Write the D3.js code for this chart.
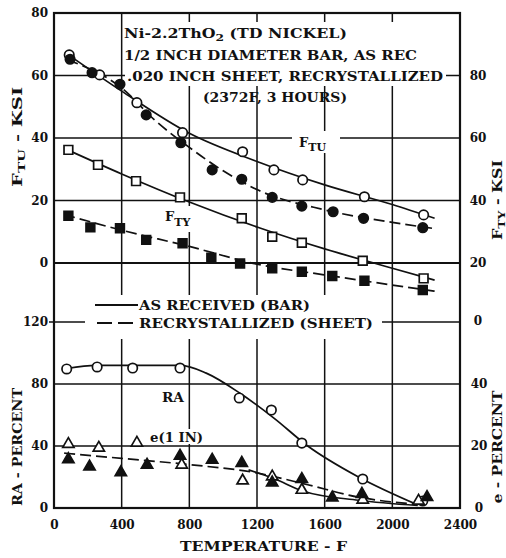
<!DOCTYPE html>
<html>
<head>
<meta charset="utf-8">
<script src="https://cdn.jsdelivr.net/npm/d3@7"></script>
<style>
body { margin: 0; background: #fff; }
svg { display: block; }
text { font-family: "DejaVu Serif", serif; font-weight: bold; fill: #111; }
</style>
</head>
<body>
<svg id="chart" width="506" height="558"></svg>
<script>
// tick values
var tempTicks = [0, 400, 800, 1200, 1600, 2000, 2400];
var ftuTicks = [0, 20, 40, 60, 80];
var ftyTicks = [0, 20, 40, 60, 80];
var raTicks = [0, 40, 80, 120];
var eTicks = [0, 20, 40];

// F_TU, as received bar (open circles)
var ftuBarTemp = [90, 270, 490, 760, 1115, 1300, 1470, 1835, 2185];
var ftuBarKsi = [66.6, 60.2, 51.3, 41.7, 35.6, 29.8, 26.6, 21.2, 15.4];
// F_TU, recrystallized sheet (filled circles)
var ftuSheetTemp = [95, 225, 390, 545, 750, 935, 1110, 1290, 1465, 1650, 1830, 2180];
var ftuSheetKsi = [65.2, 60.9, 57.2, 47.4, 38.5, 29.8, 26.8, 21.0, 18.2, 16.4, 14.3, 11.3];
// F_TY, as received bar (open squares)
var ftyBarTemp = [85, 260, 485, 745, 1110, 1290, 1465, 1825, 2185];
var ftyBarKsi = [56.2, 51.4, 46.2, 41.0, 34.3, 28.4, 26.5, 20.7, 14.7];
// F_TY, recrystallized sheet (filled squares)
var ftySheetTemp = [85, 215, 390, 545, 760, 930, 1100, 1290, 1465, 1645, 1835, 2180];
var ftySheetKsi = [35.1, 31.4, 31.1, 27.4, 26.3, 21.7, 19.8, 18.2, 17.0, 15.5, 13.9, 10.7];
// RA, as received bar (open circles)
var raBarTemp = [75, 255, 465, 745, 1095, 1285, 1465, 1825, 2180];
var raBarPct = [89.7, 91.0, 90.3, 90.3, 71.0, 63.2, 41.9, 18.7, 4.5];
// e(1 IN), as received bar (open triangles)
var eBarTemp = [85, 265, 490, 755, 1115, 1290, 1465, 1825, 2155];
var eBarPct = [20.6, 19.4, 21.0, 13.9, 8.8, 10.1, 5.8, 2.6, 2.3];
// e(1 IN), recrystallized sheet (filled triangles)
var eSheetTemp = [85, 210, 395, 550, 745, 935, 1110, 1290, 1465, 1645, 1820, 2205];
var eSheetPct = [15.7, 13.3, 11.5, 13.9, 16.8, 15.5, 14.5, 8.2, 9.3, 3.3, 4.5, 3.5];

// faired curves as drawn on the chart
var ftuBarFitT = [75, 400, 800, 1200, 1600, 2000, 2250];
var ftuBarFitV = [67, 55, 41.5, 32.5, 25, 18.7, 14.3];
var ftuSheetFitT = [80, 400, 600, 800, 1000, 1200, 1600, 2000, 2250];
var ftuSheetFitV = [65, 56, 45.5, 37, 29.5, 23.5, 17, 13, 11];
var ftyBarFitT = [80, 400, 800, 1200, 1600, 2000, 2250];
var ftyBarFitV = [56.2, 48.5, 39.5, 31.5, 24.5, 18.2, 14.1];
var ftySheetFitT = [60, 400, 800, 1200, 1600, 2000, 2250];
var ftySheetFitV = [35.5, 30.5, 25.3, 19.6, 15.9, 12.4, 10.3];
var raBarFitT = [75, 250, 750, 900, 1100, 1300, 1500, 1800, 2150];
var raBarFitV = [90, 92, 92, 87, 74, 58, 40, 20, 2];
var eSheetFitT = [60, 400, 800, 1200, 1500, 1800, 2200];
var eSheetFitV = [17.7, 16, 14, 11.3, 7.5, 3.5, 1];
var eBarFitT = [1150, 1300, 1470, 1800, 2150];
var eBarFitV = [12.3, 9.5, 5.5, 2.5, 0.8];

var svg = d3.select('#chart');
var ink = '#111';

var x = d3.scaleLinear().domain([0, 2400]).range([54, 460]);
var yFtu = d3.scaleLinear().domain([0, 80]).range([263, 13]);
var yFty = d3.scaleLinear().domain([0, 20, 80]).range([321, 263, 75.5]);
var yRa = d3.scaleLinear().domain([0, 120]).range([508, 322]);
var yE = d3.scaleLinear().domain([0, 40]).range([508, 384]);

function zip(a, b) {
    return a.map(function(d, i) { return [d, b[i]]; });
}

// grid
var gGrid = svg.append('g').attr('stroke', ink).attr('stroke-width', 1.5);
[20, 40, 60].forEach(function(v) {
    gGrid.append('line').attr('x1', x(0)).attr('x2', x(2400)).attr('y1', yFtu(v)).attr('y2', yFtu(v));
});
gGrid.append('line').attr('x1', x(0)).attr('x2', x(2400)).attr('y1', yFtu(0)).attr('y2', yFtu(0)).attr('stroke-width', 2);
[40, 80, 120].forEach(function(v) {
    gGrid.append('line').attr('x1', x(0)).attr('x2', x(2400)).attr('y1', yRa(v)).attr('y2', yRa(v));
});
[400, 800, 1200, 1600, 2000].forEach(function(t) {
    gGrid.append('line').attr('x1', x(t)).attr('x2', x(t)).attr('y1', yFtu(80)).attr('y2', yRa(0));
});

// white patches behind labels (grid is broken there)
var masks = [[125, 22, 321, 64], [292, 131, 48, 22], [85, 295, 297, 44], [163, 206, 36, 26], [148, 429, 57, 15]];
svg.append('g').selectAll('rect').data(masks).enter().append('rect')
    .attr('x', function(d) { return d[0]; }).attr('y', function(d) { return d[1]; })
    .attr('width', function(d) { return d[2]; }).attr('height', function(d) { return d[3]; })
    .attr('fill', '#fff');

// curves
function drawCurve(ts, vs, yScale, dashed) {
    var line = d3.line()
        .x(function(d) { return x(d[0]); })
        .y(function(d) { return yScale(d[1]); })
        .curve(d3.curveMonotoneX);
    svg.append('path').datum(zip(ts, vs))
        .attr('d', line)
        .attr('fill', 'none')
        .attr('stroke', ink)
        .attr('stroke-width', 1.7)
        .attr('stroke-dasharray', dashed ? '11,5' : null);
}
drawCurve(ftuBarFitT, ftuBarFitV, yFtu, false);
drawCurve(ftuSheetFitT, ftuSheetFitV, yFtu, true);
drawCurve(ftyBarFitT, ftyBarFitV, yFty, false);
drawCurve(ftySheetFitT, ftySheetFitV, yFty, true);
drawCurve(raBarFitT, raBarFitV, yRa, false);
drawCurve(eSheetFitT, eSheetFitV, yE, true);
drawCurve(eBarFitT, eBarFitV, yE, false);

// markers
function drawMarks(ts, vs, yScale, type, size, filled) {
    var sym = d3.symbol().type(type).size(size);
    svg.append('g').selectAll('path').data(zip(ts, vs)).enter().append('path')
        .attr('d', sym)
        .attr('transform', function(d) { return 'translate(' + x(d[0]) + ',' + yScale(d[1]) + ')'; })
        .attr('fill', filled ? ink : '#fff')
        .attr('stroke', ink)
        .attr('stroke-width', 1.7);
}
drawMarks(ftuBarTemp, ftuBarKsi, yFtu, d3.symbolCircle, 70, false);
drawMarks(ftuSheetTemp, ftuSheetKsi, yFtu, d3.symbolCircle, 70, true);
drawMarks(ftyBarTemp, ftyBarKsi, yFty, d3.symbolSquare, 76, false);
drawMarks(ftySheetTemp, ftySheetKsi, yFty, d3.symbolSquare, 76, true);
drawMarks(raBarTemp, raBarPct, yRa, d3.symbolCircle, 70, false);
drawMarks(eBarTemp, eBarPct, yE, d3.symbolTriangle, 55, false);
drawMarks(eSheetTemp, eSheetPct, yE, d3.symbolTriangle, 55, true);

// axes
function styleAxis(g) {
    g.select('.domain').remove();
    g.selectAll('text').attr('font-size', 12).attr('font-family', '"DejaVu Serif", serif').attr('font-weight', 'bold').attr('fill', ink);
}
svg.append('g').attr('transform', 'translate(54,0)')
    .call(d3.axisLeft(yFtu).tickValues(ftuTicks).tickSize(0).tickPadding(6)).call(styleAxis);
svg.append('g').attr('transform', 'translate(54,0)')
    .call(d3.axisLeft(yRa).tickValues(raTicks).tickSize(0).tickPadding(6)).call(styleAxis);
svg.append('g').attr('transform', 'translate(460,0)')
    .call(d3.axisRight(yFty).tickValues(ftyTicks).tickSize(0).tickPadding(10)).call(styleAxis)
    .selectAll('text').attr('text-anchor', 'middle').attr('x', 18);
svg.append('g').attr('transform', 'translate(460,0)')
    .call(d3.axisRight(yE).tickValues(eTicks).tickSize(0).tickPadding(10)).call(styleAxis)
    .selectAll('text').attr('text-anchor', 'middle').attr('x', 19);
svg.append('g').attr('transform', 'translate(0,508)')
    .call(d3.axisBottom(x).tickValues(tempTicks).tickFormat(d3.format('d')).tickSize(0).tickPadding(12)).call(styleAxis);

// short tick at left of 120
svg.append('line').attr('x1', 49).attr('x2', 54).attr('y1', yRa(120)).attr('y2', yRa(120)).attr('stroke', ink).attr('stroke-width', 1.5);

// frame
svg.append('rect').attr('x', x(0)).attr('y', yFtu(80))
    .attr('width', x(2400) - x(0)).attr('height', yRa(0) - yFtu(80))
    .attr('fill', 'none').attr('stroke', ink).attr('stroke-width', 2.2);

// title block
function addText(tx, ty, parts, size, len) {
    var t = svg.append('text').attr('x', tx).attr('y', ty).attr('font-size', size);
    parts.forEach(function(p) {
        var s = t.append('tspan').text(p[0]);
        if (p[1]) s.attr('dy', p[1]);
        if (p[2]) s.attr('font-size', p[2]);
    });
    if (len) t.attr('textLength', len).attr('lengthAdjust', 'spacingAndGlyphs');
    return t;
}
addText(124, 38, [['Ni-2.2ThO'], ['2', 3, 10], [' (TD NICKEL)', -3]], 13, 223);
addText(124, 60, [['1/2 INCH DIAMETER BAR, AS REC']], 13, 293);
addText(127, 81, [['.020 INCH SHEET, RECRYSTALLIZED']], 13, 316);
addText(203, 102, [['(2372F, 3 HOURS)']], 13, 144);

// curve labels
addText(299, 147, [['F'], ['TU', 4, 11]], 13);
addText(165, 221, [['F'], ['TY', 5, 11]], 13);
addText(162, 402, [['RA']], 12, 22);
addText(150, 442, [['e(1 IN)']], 12, 53);

// legend
svg.append('line').attr('x1', 95).attr('x2', 138).attr('y1', 305).attr('y2', 305).attr('stroke', ink).attr('stroke-width', 2);
svg.append('line').attr('x1', 97).attr('x2', 138).attr('y1', 323).attr('y2', 323).attr('stroke', ink).attr('stroke-width', 2).attr('stroke-dasharray', '15,6');
addText(139, 310, [['AS RECEIVED (BAR)']], 13, 171);
addText(139, 328, [['RECRYSTALLIZED (SHEET)']], 13, 234);

// axis titles
addText(180, 551, [['TEMPERATURE - F']], 13, 167);
function addVText(cx, cy, parts, len) {
    var t = svg.append('text').attr('transform', 'translate(' + cx + ',' + cy + ') rotate(-90)')
        .attr('text-anchor', 'middle').attr('font-size', 13);
    parts.forEach(function(p) {
        var s = t.append('tspan').text(p[0]);
        if (p[1]) s.attr('dy', p[1]);
        if (p[2]) s.attr('font-size', p[2]);
    });
    if (len) t.attr('textLength', len).attr('lengthAdjust', 'spacingAndGlyphs');
}
addVText(22, 137, [['F'], ['TU', 3, 10], [' - KSI', -3]], 100);
addVText(502, 200, [['F'], ['TY', 3, 10], [' - KSI', -3]], 80);
addVText(22, 447, [['RA - PERCENT']], 118);
addVText(502, 447, [['e - PERCENT']], 113);
</script>
</body>
</html>
